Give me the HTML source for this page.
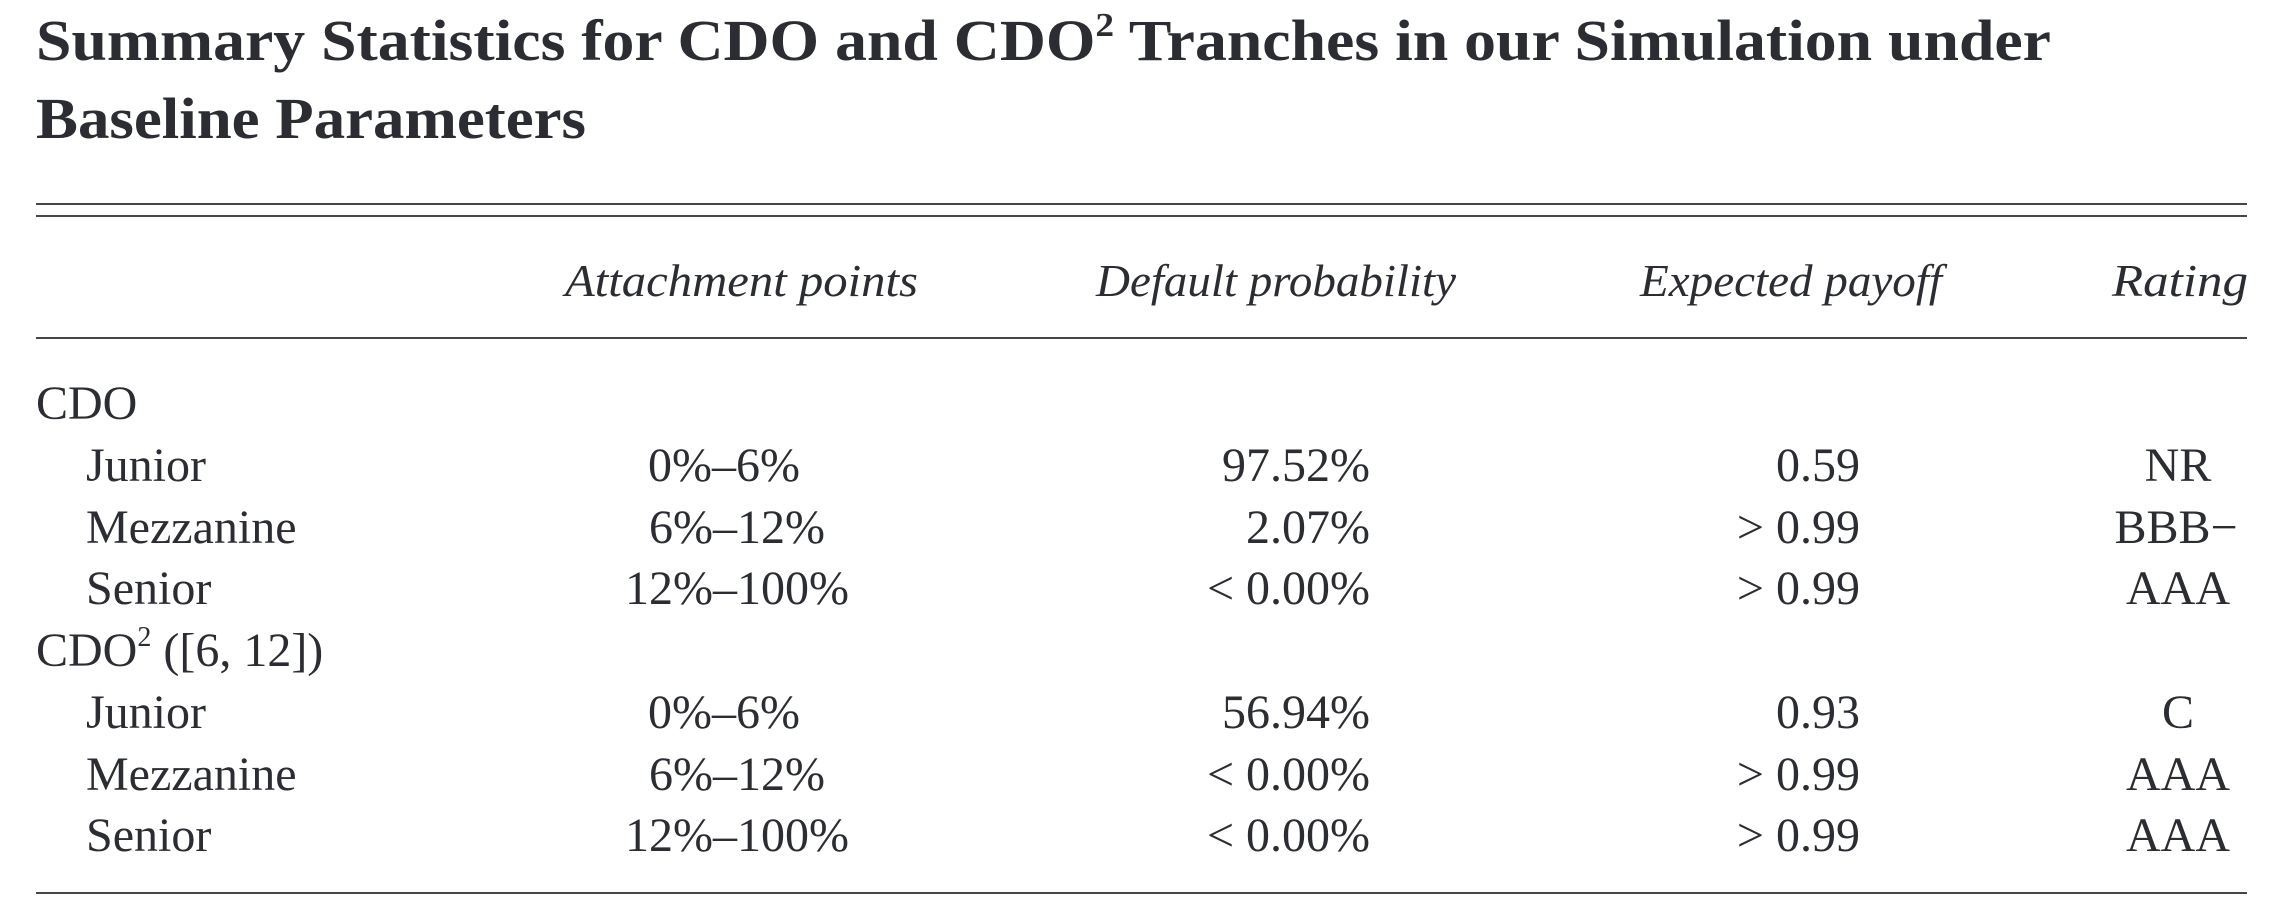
<!DOCTYPE html>
<html><head><meta charset="utf-8"><style>
html,body{margin:0;padding:0;background:#fff;}
svg{display:block;font-family:"Liberation Serif",serif;fill:#2b2d33;}
</style></head><body>
<svg width="2277" height="906" viewBox="0 0 2277 906">
<g font-weight="bold" font-size="58">
<text x="36" y="60" textLength="2015" lengthAdjust="spacingAndGlyphs">Summary Statistics for CDO and CDO<tspan font-size="34" dy="-24">2</tspan><tspan dy="24"> Tranches in our Simulation under</tspan></text>
<text x="36" y="138" textLength="550" lengthAdjust="spacingAndGlyphs">Baseline Parameters</text>
</g>
<g stroke="#44464c" stroke-width="2">
<line x1="36" x2="2247" y1="204" y2="204"/>
<line x1="36" x2="2247" y1="216" y2="216"/>
<line x1="36" x2="2247" y1="338" y2="338"/>
<line x1="36" x2="2247" y1="893" y2="893"/>
</g>
<g font-style="italic" font-size="46">
<text x="565" y="296" textLength="353" lengthAdjust="spacingAndGlyphs">Attachment points</text>
<text x="1096" y="296" textLength="360" lengthAdjust="spacingAndGlyphs">Default probability</text>
<text x="1640" y="296" textLength="302" lengthAdjust="spacingAndGlyphs">Expected payoff</text>
<text x="2112" y="296" textLength="136" lengthAdjust="spacingAndGlyphs">Rating</text>
</g>
<g font-size="48">
<text x="36" y="419">CDO</text>
<text x="36" y="666">CDO<tspan font-size="28" dy="-20">2</tspan><tspan dy="20"> ([6, 12])</tspan></text>
<g>
<text x="86" y="481">Junior</text><text x="724" y="481" text-anchor="middle">0%–6%</text><text x="1370" y="481" text-anchor="end">97.52%</text><text x="1860" y="481" text-anchor="end">0.59</text><text x="2178" y="481" text-anchor="middle">NR</text></g>
<g>
<text x="86" y="543">Mezzanine</text><text x="737" y="543" text-anchor="middle">6%–12%</text><text x="1370" y="543" text-anchor="end">2.07%</text><text x="1860" y="543" text-anchor="end">&gt; 0.99</text><text x="2176" y="543" text-anchor="middle">BBB−</text></g>
<g>
<text x="86" y="604">Senior</text><text x="737" y="604" text-anchor="middle">12%–100%</text><text x="1370" y="604" text-anchor="end">&lt; 0.00%</text><text x="1860" y="604" text-anchor="end">&gt; 0.99</text><text x="2178" y="604" text-anchor="middle">AAA</text></g>
<g>
<text x="86" y="728">Junior</text><text x="724" y="728" text-anchor="middle">0%–6%</text><text x="1370" y="728" text-anchor="end">56.94%</text><text x="1860" y="728" text-anchor="end">0.93</text><text x="2178" y="728" text-anchor="middle">C</text></g>
<g>
<text x="86" y="790">Mezzanine</text><text x="737" y="790" text-anchor="middle">6%–12%</text><text x="1370" y="790" text-anchor="end">&lt; 0.00%</text><text x="1860" y="790" text-anchor="end">&gt; 0.99</text><text x="2178" y="790" text-anchor="middle">AAA</text></g>
<g>
<text x="86" y="851">Senior</text><text x="737" y="851" text-anchor="middle">12%–100%</text><text x="1370" y="851" text-anchor="end">&lt; 0.00%</text><text x="1860" y="851" text-anchor="end">&gt; 0.99</text><text x="2178" y="851" text-anchor="middle">AAA</text></g>
</g>
</svg>
</body></html>
